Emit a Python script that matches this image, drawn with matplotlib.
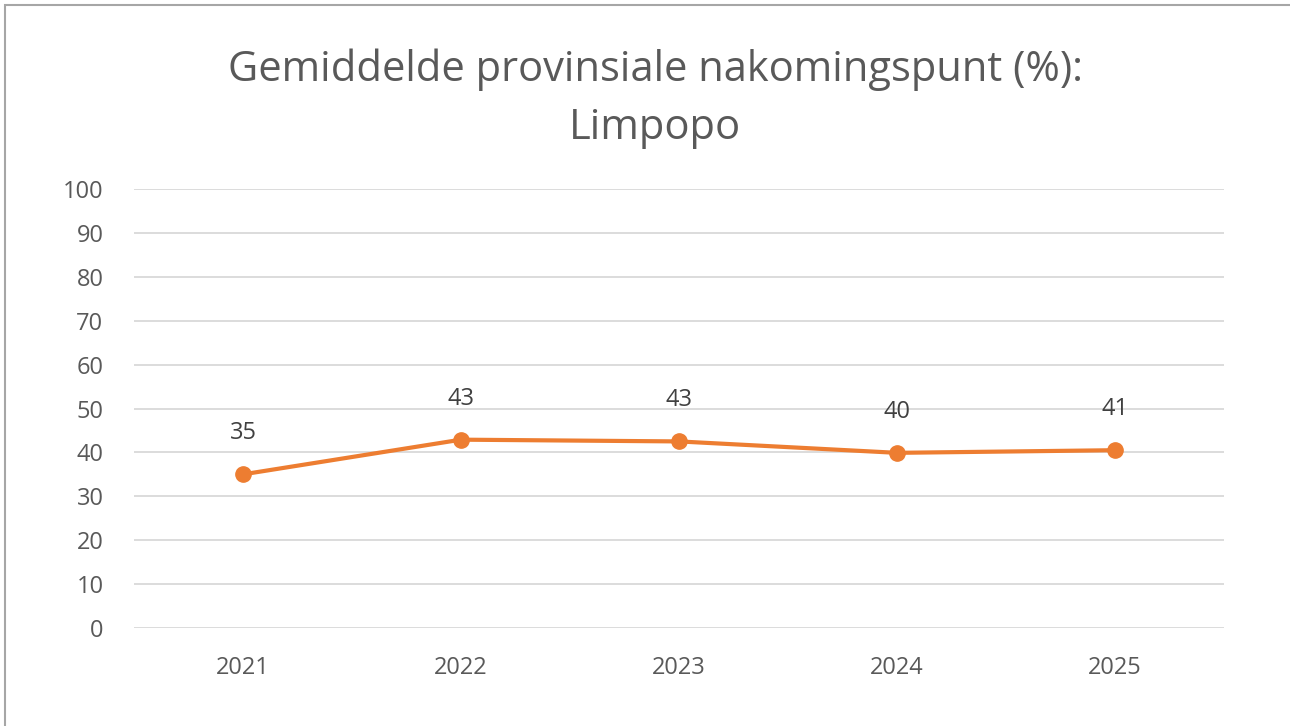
import matplotlib.pyplot as plt
from matplotlib.patches import Rectangle

years = ["2021", "2022", "2023", "2024", "2025"]
scores = [35.0, 42.9, 42.5, 39.9, 40.5]
score_labels = ["35", "43", "43", "40", "41"]
y_ticks = [0, 10, 20, 30, 40, 50, 60, 70, 80, 90, 100]

plt.rcParams['font.family'] = ['Open Sans', 'DejaVu Sans']

fig = plt.figure(figsize=(12.9, 7.26), dpi=100)
# thin gray border of the chart area
fig.patches.append(Rectangle((5 / 1290, -0.1), 1.2, (726 - 5) / 726 + 0.1,
                             transform=fig.transFigure, fill=False,
                             edgecolor="#a6a6a6", linewidth=1.5))

ax = fig.add_axes([134 / 1290, 98 / 726, 1090 / 1290, 439 / 726])
x = list(range(len(years)))
ax.plot(x, scores, color="#ED7D31", linewidth=3, marker="o", markersize=11)
for xi, yi, lab in zip(x, scores, score_labels):
    ax.annotate(lab, (xi, yi), xytext=(0, 21), textcoords="offset points",
                ha="center", va="bottom", fontsize=17, color="#404040")

ax.set_xlim(-0.5, len(years) - 0.5)
ax.set_ylim(0, 100)
ax.set_xticks(x)
ax.set_xticklabels(years)
ax.set_yticks(y_ticks)
ax.tick_params(axis="both", length=0, labelsize=17, labelcolor="#595959")
ax.tick_params(axis="x", pad=20)
ax.tick_params(axis="y", pad=22)
ax.grid(axis="y", color="#d9d9d9", linewidth=1.3)
ax.set_axisbelow(True)
for s in ax.spines.values():
    s.set_visible(False)

fig.text(655 / 1290, 1 - 99 / 726, "Gemiddelde provinsiale nakomingspunt (%):\nLimpopo",
         ha="center", va="center", fontsize=30, color="#595959", linespacing=1.5)

fig.savefig("out.png", dpi=100)
